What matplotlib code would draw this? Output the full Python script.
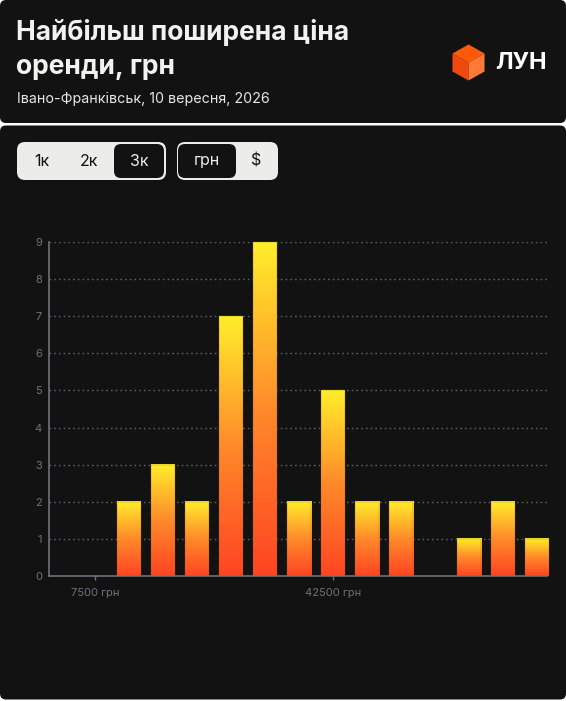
import numpy as np
import matplotlib
matplotlib.use("Agg")
import matplotlib.pyplot as plt
from matplotlib.patches import FancyBboxPatch, Polygon
from matplotlib.colors import LinearSegmentedColormap

plt.rcParams['font.family'] = ['Inter', 'DejaVu Sans']

# data: price bins (bin centres, грн) and number of listings
bin_centres = [2500, 7500, 12500, 17500, 22500, 27500, 32500, 37500,
               42500, 47500, 52500, 57500, 62500, 67500, 72500]
counts = [0, 0, 2, 3, 2, 7, 9, 2, 5, 2, 2, 0, 1, 2, 1]
x_ticks = [7500, 42500]
x_tick_labels = ["7500 грн", "42500 грн"]
y_ticks = list(range(0, 10))

title_lines = ["Найбільш поширена ціна", "оренди, грн"]
subtitle = "Івано-Франківськ, 10 вересня, 2026"

W, H = 566, 701
BG = "#121212"
LIGHT = "#ececea"
GRAY = "#6f727c"

fig = plt.figure(figsize=(W / 100, H / 100), dpi=100)
fig.patch.set_facecolor("white")

# full-figure overlay in pixel coords
bg = fig.add_axes([0, 0, 1, 1])
bg.set_xlim(0, W)
bg.set_ylim(H, 0)
bg.axis('off')

def rbox(ax, x, y, w, h, r, **kw):
    p = FancyBboxPatch((x + r, y + r), w - 2 * r, h - 2 * r,
                       boxstyle="round,pad=%f" % r, **kw)
    ax.add_patch(p)
    return p

rbox(bg, 0, 0, W, 123, 6, fc=BG, ec="none")
rbox(bg, 0, 125.5, W, 574, 6, fc=BG, ec="none")

for i, line in enumerate(title_lines):
    bg.text(16, 33 + 34 * i, line, color="#f2f2f0", fontsize=19,
            fontweight="bold", va="center", ha="left")
bg.text(17, 99, subtitle, color="#e6e6e4", fontsize=10.3, va="center", ha="left")

# logo cube
cx, cy = 468.5, 62.5
top = [(cx, cy - 18), (cx + 16, cy - 9), (cx, cy), (cx - 16, cy - 9)]
left = [(cx - 16, cy - 9), (cx, cy), (cx, cy + 18), (cx - 16, cy + 9)]
right = [(cx, cy), (cx + 16, cy - 9), (cx + 16, cy + 9), (cx, cy + 18)]
bg.add_patch(Polygon(top, closed=True, fc="#ff5a0a", ec="none"))
bg.add_patch(Polygon(left, closed=True, fc="#f0490f", ec="none"))
bg.add_patch(Polygon(right, closed=True, fc="#ff7a35", ec="none"))
bg.text(495, 63, "ЛУН", color="white", fontsize=17, fontweight="bold",
        va="center", ha="left")

# toggle controls
rbox(bg, 17, 142, 149, 38, 8, fc=LIGHT, ec="none")
rbox(bg, 114, 144, 50, 34, 7, fc=BG, ec="none")
rbox(bg, 177, 142, 101, 38, 8, fc=LIGHT, ec="none")
rbox(bg, 178, 144, 58, 34, 7, fc=BG, ec="none")
for tx, label, col in [(42, "1к", BG), (89, "2к", BG), (139, "3к", LIGHT),
                       (207, "грн", LIGHT), (256, "$", BG)]:
    bg.text(tx, 161, label, color=col, fontsize=11.5, ha="center", va="center")

# chart axes
x0, x1, y0, y1 = 49, 547, 242, 576
ax = fig.add_axes([x0 / W, (H - y1) / H, (x1 - x0) / W, (y1 - y0) / H])
ax.set_facecolor("none")
px_per_unit = 5000 / 34.0
ax.set_xlim(2500 - (61 - x0) * px_per_unit, 72500 + (x1 - 537) * px_per_unit)
ax.set_ylim(0, 9)

cmap = LinearSegmentedColormap.from_list("lun", ["#ff4423", "#ff8a2a", "#ffee2a"])
grad = np.linspace(0, 1, 256).reshape(-1, 1)
bar_w = 24 * px_per_unit
for c, v in zip(bin_centres, counts):
    if v <= 0:
        continue
    ax.imshow(grad, cmap=cmap, aspect="auto", origin="lower",
              extent=[c - bar_w / 2, c + bar_w / 2, 0, v], zorder=3,
              clip_on=False)
    ax.bar(c, v, width=bar_w, fc="none", ec="#8a5a18", lw=0.35, alpha=0.6,
           zorder=4, clip_on=False)

for yv in y_ticks[1:]:
    ax.axhline(yv, color="#5c5f69", lw=1, ls=(0, (1.2, 2.2)), zorder=1)

for s in ["top", "right"]:
    ax.spines[s].set_visible(False)
for s in ["left", "bottom"]:
    ax.spines[s].set_color(GRAY)
    ax.spines[s].set_linewidth(1.2)

ax.set_yticks(y_ticks)
ax.set_yticklabels([str(v) for v in y_ticks])
ax.set_xticks(x_ticks)
ax.set_xticklabels(x_tick_labels)
ax.tick_params(axis="y", length=0, pad=5, labelsize=8, labelcolor=GRAY)
ax.tick_params(axis="x", length=3, width=1, color=GRAY, pad=6,
               labelsize=8, labelcolor=GRAY)

fig.savefig("out.png", dpi=100, facecolor=fig.get_facecolor())
